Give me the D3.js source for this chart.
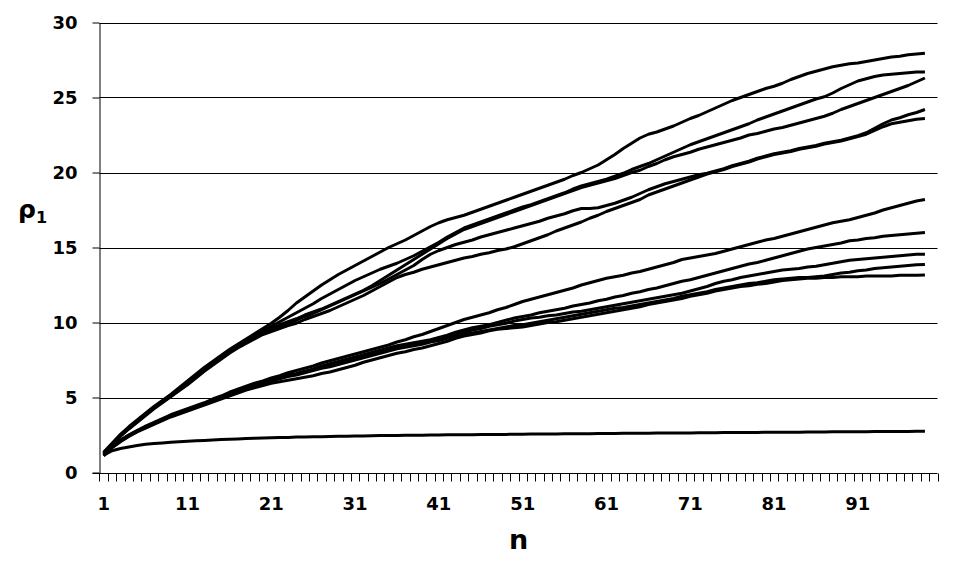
<!DOCTYPE html>
<html>
<head>
<meta charset="utf-8">
<script src="https://cdn.jsdelivr.net/npm/d3@7"></script>
<style>
  body { margin: 0; background: #fff; }
  svg text { font-family: "DejaVu Sans", Verdana, sans-serif; font-weight: bold; fill: #000; }
</style>
</head>
<body>
<svg id="chart"></svg>
<script>
// x categories (n) and labelled ticks
let categories = d3.range(1, 101);
let xTickLabels = [1, 11, 21, 31, 41, 51, 61, 71, 81, 91];
let yTicks = [0, 5, 10, 15, 20, 25, 30];

// series values, n = 1..99
let top1 = [1.35,1.95,2.55,3.05,3.5,3.95,4.4,4.8,5.2,5.65,6.1,6.55,7.0,7.4,7.8,8.2,8.55,8.9,9.25,9.6,9.95,10.35,10.8,11.3,11.7,12.1,12.5,12.85,13.2,13.5,13.8,14.1,14.4,14.7,15.0,15.25,15.5,15.8,16.1,16.4,16.65,16.85,17.0,17.15,17.35,17.55,17.75,17.95,18.15,18.35,18.55,18.75,18.95,19.15,19.35,19.55,19.8,20.0,20.25,20.5,20.85,21.2,21.6,21.95,22.3,22.55,22.7,22.9,23.1,23.35,23.6,23.8,24.05,24.3,24.55,24.8,25.0,25.2,25.4,25.6,25.75,25.95,26.2,26.4,26.6,26.75,26.9,27.05,27.15,27.25,27.3,27.4,27.5,27.6,27.7,27.75,27.85,27.9,27.95];
let top2 = [1.3,1.9,2.5,3.0,3.45,3.9,4.35,4.75,5.15,5.6,6.0,6.45,6.9,7.3,7.7,8.1,8.45,8.8,9.1,9.45,9.75,10.05,10.35,10.65,10.95,11.25,11.6,11.9,12.2,12.5,12.8,13.05,13.3,13.55,13.75,13.95,14.2,14.45,14.75,15.05,15.35,15.7,16.0,16.3,16.5,16.7,16.9,17.1,17.3,17.5,17.7,17.85,18.05,18.25,18.45,18.65,18.9,19.1,19.25,19.4,19.55,19.75,19.95,20.2,20.4,20.6,20.85,21.1,21.35,21.6,21.85,22.05,22.25,22.45,22.65,22.85,23.05,23.25,23.5,23.7,23.9,24.1,24.3,24.5,24.7,24.9,25.05,25.3,25.6,25.85,26.1,26.25,26.4,26.5,26.55,26.6,26.65,26.7,26.7];
let top3 = [1.3,1.9,2.45,2.95,3.4,3.85,4.3,4.7,5.1,5.55,5.95,6.4,6.85,7.25,7.65,8.05,8.4,8.75,9.05,9.35,9.6,9.85,10.05,10.25,10.5,10.7,10.9,11.15,11.4,11.65,11.9,12.15,12.45,12.8,13.15,13.5,13.85,14.2,14.55,14.9,15.25,15.6,15.9,16.2,16.4,16.6,16.8,17.0,17.2,17.4,17.6,17.8,18.0,18.2,18.4,18.6,18.8,19.0,19.15,19.3,19.45,19.6,19.8,20.0,20.15,20.4,20.6,20.85,21.05,21.2,21.35,21.55,21.7,21.85,22.0,22.15,22.3,22.5,22.6,22.75,22.9,23.0,23.15,23.3,23.45,23.6,23.75,23.95,24.2,24.4,24.6,24.8,25.0,25.2,25.4,25.6,25.8,26.05,26.3];
let top4 = [1.3,1.9,2.45,2.95,3.4,3.85,4.3,4.7,5.1,5.5,5.9,6.35,6.8,7.2,7.6,8.0,8.35,8.7,9.0,9.3,9.55,9.75,9.95,10.15,10.4,10.6,10.85,11.1,11.35,11.6,11.85,12.1,12.35,12.6,12.9,13.2,13.5,13.8,14.2,14.55,14.8,15.0,15.2,15.35,15.5,15.7,15.85,16.0,16.15,16.3,16.45,16.6,16.75,16.95,17.1,17.25,17.45,17.6,17.6,17.65,17.8,17.95,18.15,18.35,18.6,18.85,19.05,19.25,19.4,19.55,19.7,19.85,19.95,20.1,20.25,20.45,20.6,20.75,20.95,21.1,21.25,21.35,21.45,21.6,21.7,21.8,21.95,22.05,22.15,22.3,22.45,22.65,22.95,23.25,23.5,23.65,23.85,24.0,24.2];
let top5 = [1.25,1.85,2.4,2.9,3.35,3.8,4.25,4.65,5.05,5.45,5.85,6.3,6.75,7.15,7.55,7.95,8.3,8.6,8.9,9.2,9.4,9.6,9.8,9.95,10.2,10.4,10.6,10.8,11.05,11.3,11.55,11.8,12.1,12.4,12.7,13.0,13.2,13.35,13.55,13.7,13.85,14.0,14.15,14.3,14.4,14.55,14.65,14.8,14.9,15.05,15.25,15.45,15.65,15.85,16.1,16.3,16.5,16.7,16.95,17.15,17.4,17.6,17.8,18.0,18.2,18.5,18.7,18.9,19.1,19.3,19.5,19.7,19.9,20.05,20.2,20.4,20.55,20.7,20.9,21.05,21.2,21.3,21.4,21.55,21.65,21.75,21.9,22.0,22.1,22.25,22.4,22.55,22.8,23.05,23.25,23.35,23.45,23.55,23.6];
let mid1 = [1.2,1.75,2.15,2.5,2.8,3.1,3.35,3.6,3.85,4.05,4.25,4.45,4.65,4.9,5.1,5.35,5.55,5.75,5.95,6.1,6.3,6.45,6.65,6.8,6.95,7.1,7.3,7.45,7.6,7.75,7.9,8.05,8.2,8.35,8.5,8.7,8.85,9.05,9.2,9.4,9.6,9.8,10.0,10.2,10.35,10.5,10.65,10.85,11.0,11.2,11.4,11.55,11.7,11.85,12.0,12.15,12.3,12.5,12.65,12.8,12.95,13.05,13.15,13.3,13.4,13.55,13.7,13.85,14.0,14.2,14.3,14.4,14.5,14.6,14.75,14.9,15.05,15.2,15.35,15.5,15.6,15.75,15.9,16.05,16.2,16.35,16.5,16.65,16.75,16.85,17.0,17.15,17.3,17.5,17.65,17.8,17.95,18.1,18.2];
let mid2 = [1.2,1.75,2.15,2.5,2.8,3.05,3.3,3.55,3.8,4.0,4.2,4.4,4.6,4.85,5.05,5.3,5.5,5.7,5.85,6.05,6.2,6.35,6.5,6.6,6.75,6.9,7.1,7.25,7.4,7.55,7.7,7.85,8.0,8.15,8.3,8.45,8.55,8.65,8.75,8.85,9.0,9.15,9.35,9.5,9.65,9.75,9.85,10.0,10.15,10.3,10.4,10.5,10.65,10.75,10.85,10.95,11.1,11.2,11.3,11.45,11.55,11.7,11.8,11.95,12.05,12.2,12.3,12.45,12.6,12.75,12.85,13.0,13.15,13.3,13.45,13.6,13.75,13.9,14.0,14.15,14.3,14.45,14.6,14.75,14.9,15.0,15.1,15.2,15.3,15.45,15.5,15.6,15.65,15.75,15.8,15.85,15.9,15.95,16.0];
let mid3 = [1.15,1.7,2.1,2.45,2.75,3.0,3.25,3.5,3.75,3.95,4.15,4.35,4.55,4.8,5.0,5.25,5.45,5.65,5.8,6.0,6.15,6.3,6.45,6.55,6.7,6.85,7.0,7.15,7.3,7.45,7.6,7.75,7.9,8.05,8.2,8.35,8.45,8.55,8.65,8.75,8.9,9.05,9.2,9.35,9.5,9.6,9.75,9.85,9.95,10.1,10.2,10.3,10.35,10.45,10.5,10.6,10.7,10.75,10.85,10.95,11.05,11.15,11.25,11.35,11.45,11.55,11.65,11.75,11.85,11.95,12.1,12.25,12.4,12.6,12.75,12.85,13.0,13.1,13.2,13.3,13.4,13.5,13.55,13.6,13.7,13.75,13.85,13.95,14.05,14.15,14.2,14.25,14.3,14.35,14.4,14.45,14.5,14.55,14.55];
let mid4 = [1.15,1.7,2.1,2.45,2.75,3.0,3.25,3.5,3.75,3.95,4.15,4.35,4.55,4.75,4.95,5.2,5.4,5.6,5.75,5.95,6.1,6.25,6.4,6.5,6.65,6.8,6.95,7.05,7.2,7.35,7.5,7.65,7.8,7.95,8.1,8.25,8.35,8.45,8.55,8.7,8.8,8.95,9.05,9.2,9.3,9.4,9.5,9.6,9.7,9.8,9.85,9.95,10.05,10.15,10.25,10.35,10.45,10.55,10.65,10.75,10.85,10.95,11.0,11.1,11.2,11.3,11.4,11.5,11.6,11.75,11.85,11.95,12.05,12.2,12.3,12.4,12.5,12.6,12.65,12.75,12.85,12.9,12.95,13.0,13.0,13.05,13.1,13.2,13.3,13.35,13.45,13.5,13.6,13.65,13.7,13.75,13.8,13.85,13.87];
let mid5 = [1.1,1.65,2.05,2.4,2.7,2.95,3.2,3.45,3.7,3.9,4.1,4.3,4.5,4.7,4.9,5.1,5.3,5.5,5.65,5.8,5.95,6.05,6.15,6.25,6.35,6.45,6.6,6.7,6.85,7.0,7.15,7.35,7.5,7.65,7.8,7.95,8.05,8.2,8.3,8.45,8.6,8.75,8.95,9.1,9.2,9.3,9.45,9.55,9.6,9.65,9.7,9.8,9.9,10.0,10.05,10.15,10.25,10.35,10.45,10.55,10.65,10.75,10.85,10.95,11.05,11.2,11.3,11.4,11.5,11.6,11.75,11.85,11.95,12.1,12.2,12.3,12.4,12.45,12.55,12.6,12.7,12.8,12.85,12.9,12.95,12.95,13.0,13.0,13.05,13.05,13.05,13.1,13.1,13.1,13.1,13.15,13.15,13.15,13.17];
let low1 = [1.15,1.45,1.6,1.7,1.8,1.88,1.93,1.97,2.01,2.05,2.08,2.11,2.14,2.17,2.2,2.22,2.24,2.26,2.28,2.3,2.31,2.33,2.34,2.36,2.37,2.38,2.39,2.4,2.41,2.42,2.43,2.44,2.45,2.46,2.46,2.47,2.48,2.48,2.49,2.5,2.5,2.51,2.51,2.52,2.52,2.53,2.53,2.54,2.54,2.55,2.55,2.56,2.56,2.57,2.57,2.58,2.58,2.59,2.59,2.6,2.6,2.6,2.61,2.61,2.62,2.62,2.63,2.63,2.63,2.64,2.64,2.65,2.65,2.65,2.66,2.66,2.67,2.67,2.67,2.68,2.68,2.68,2.69,2.69,2.7,2.7,2.7,2.71,2.71,2.72,2.72,2.72,2.73,2.73,2.74,2.74,2.74,2.75,2.75];

let allSeries = [top1, top2, top3, top4, top5, mid1, mid2, mid3, mid4, mid5, low1];

let width = 960, height = 577;
let margin = {top: 22.5, right: 22.5, bottom: 104.5, left: 99.5};

let svg = d3.select("#chart")
  .attr("width", width)
  .attr("height", height);

let x = d3.scaleBand()
  .domain(categories)
  .range([margin.left, width - margin.right])
  .padding(0);

let y = d3.scaleLinear()
  .domain([0, 30])
  .range([height - margin.bottom, margin.top]);

let xc = function(n) { return x(n) + x.bandwidth() / 2; };

// horizontal gridlines
svg.append("g")
  .selectAll("line")
  .data(yTicks.filter(d => d > 0))
  .enter().append("line")
  .attr("x1", margin.left)
  .attr("x2", width - margin.right)
  .attr("y1", d => Math.round(y(d)) + 0.5)
  .attr("y2", d => Math.round(y(d)) + 0.5)
  .attr("stroke", "#000")
  .attr("stroke-width", 1);

// y axis
let yAxis = svg.append("g")
  .attr("transform", "translate(" + margin.left + ",0)")
  .call(d3.axisLeft(y).tickValues(yTicks).tickSize(7).tickPadding(15).tickSizeOuter(0));
yAxis.select(".domain").attr("stroke", "#000");
yAxis.selectAll(".tick line").attr("stroke", "#000");
yAxis.selectAll(".tick text")
  .style("font-size", "18px")
  .attr("dy", "0.36em");

// x axis: ticks at category boundaries, labels every 10
let xAxisY = Math.round(y(0)) + 0.5;
let xg = svg.append("g");
xg.append("line")
  .attr("x1", margin.left - 7)
  .attr("x2", width - margin.right)
  .attr("y1", xAxisY)
  .attr("y2", xAxisY)
  .attr("stroke", "#000");
xg.selectAll(".xtick")
  .data(categories.concat([101]))
  .enter().append("line")
  .attr("class", "xtick")
  .attr("x1", d => Math.round(d <= 100 ? x(d) : x(100) + x.bandwidth()) + 0.5)
  .attr("x2", d => Math.round(d <= 100 ? x(d) : x(100) + x.bandwidth()) + 0.5)
  .attr("y1", xAxisY)
  .attr("y2", xAxisY + 8)
  .attr("stroke", "#000");
xg.selectAll(".xlabel")
  .data(xTickLabels)
  .enter().append("text")
  .attr("class", "xlabel")
  .attr("x", d => xc(d))
  .attr("y", 510)
  .attr("text-anchor", "middle")
  .style("font-size", "18px")
  .text(d => d);

// series lines
let line = d3.line()
  .x((d, i) => xc(categories[i]))
  .y(d => y(d));

svg.append("g")
  .selectAll("path")
  .data(allSeries)
  .enter().append("path")
  .attr("d", line)
  .attr("fill", "none")
  .attr("stroke", "#000")
  .attr("stroke-width", 3)
  .attr("stroke-linejoin", "round");

// axis titles
svg.append("text")
  .attr("x", (margin.left + width - margin.right) / 2)
  .attr("y", 549)
  .attr("text-anchor", "middle")
  .style("font-size", "27px")
  .text("n");

let yTitle = svg.append("text")
  .attr("x", 18)
  .attr("y", 218)
  .style("font-size", "25px");
yTitle.append("tspan").text("ρ");
yTitle.append("tspan")
  .attr("dy", 5)
  .style("font-size", "16px")
  .text("1");
</script>
</body>
</html>
